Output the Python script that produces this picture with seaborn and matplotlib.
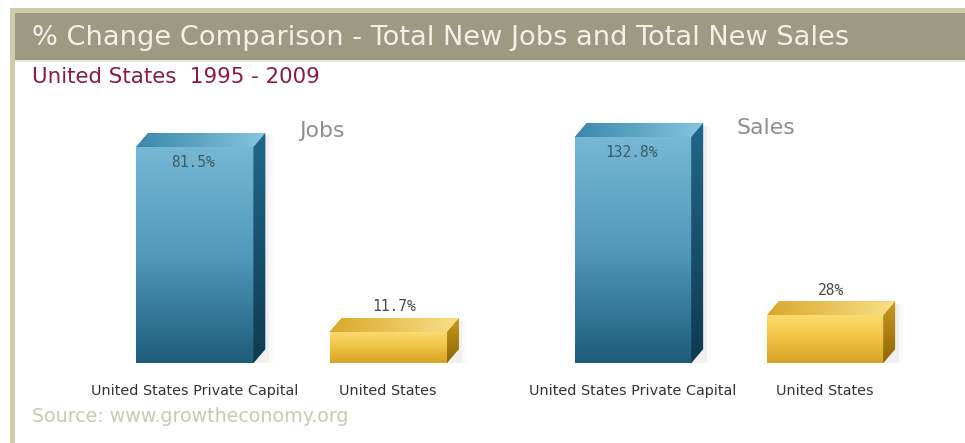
import numpy as np
import pandas as pd
import matplotlib
matplotlib.use("Agg")
import matplotlib.pyplot as plt
from matplotlib.patches import Polygon, Rectangle
from matplotlib.colors import LinearSegmentedColormap
import seaborn as sns

# ---- data -------------------------------------------------------------
categories = ["United States Private Capital", "United States"]
jobs_change = [81.5, 11.7]
sales_change = [132.8, 28.0]
jobs_labels = ["81.5%", "11.7%"]
sales_labels = ["132.8%", "28%"]
panel_titles = ["Jobs", "Sales"]
title = "% Change Comparison - Total New Jobs and Total New Sales"
subtitle = "United States  1995 - 2009"
source = "Source: www.growtheconomy.org"

# ---- styling ----------------------------------------------------------
sns.set_theme(style="white")
plt.rcParams["font.family"] = ["DejaVu Sans"]

W, H = 965, 443
DEPTH_X, DEPTH_Y = 12, 14          # 3-D extrusion in pixels

BLUE = "#4a93b5"
GOLD = "#e9b93c"
faces = {
    BLUE: dict(front=["#76b8d5", "#5299ba", "#1d5c7a"],
               side=["#21678a", "#0f3a50"],
               top=["#3b87aa", "#86c6df"]),
    GOLD: dict(front=["#fbdb70", "#f0c242", "#d6a224"],
               side=["#c99a1c", "#8c6608"],
               top=["#d9a82a", "#fae08a"]),
}

fig = plt.figure(figsize=(W / 100, H / 100), dpi=100)
fig.patch.set_facecolor("white")


def fig_rect(left, top, width, height):
    """Pixel box (from top-left) -> figure-fraction rect."""
    return [left / W, 1 - (top + height) / H, width / W, height / H]


def add_fig_box(left, top, width, height, color, z=0):
    x, y, w, h = fig_rect(left, top, width, height)
    fig.patches.append(Rectangle((x, y), w, h, transform=fig.transFigure,
                                 facecolor=color, edgecolor="none", zorder=z))


# frame: khaki border, olive header bar
add_fig_box(10, 8, W - 10, 5, "#cfccaa")
add_fig_box(10, 8, 5, H - 8, "#cfccaa")
add_fig_box(15, 13, W - 15, 47, "#9c9a82")
add_fig_box(15, 60, W - 15, 2, "#e9e7da")

fig.text(32 / W, 1 - 38 / H, title, color="#f3f1e6", fontsize=19.6,
         va="center", ha="left")
fig.text(32 / W, 1 - 77 / H, subtitle, color="#8a1c3e", fontsize=15.4,
         va="center", ha="left")
fig.text(32 / W, 1 - 417 / H, source, color="#c6cab6", fontsize=13.7,
         va="center", ha="left")


def gradient_image(ax, extent, colors, clip, horizontal=False, z=3):
    cmap = LinearSegmentedColormap.from_list("g", colors)
    g = np.linspace(0, 1, 256)
    arr = g[np.newaxis, :] if horizontal else g[:, np.newaxis]
    im = ax.imshow(arr, extent=extent, cmap=cmap, aspect="auto",
                   origin="upper" if not horizontal else "lower",
                   interpolation="bicubic", zorder=z)
    im.set_clip_path(clip)
    return im


def draw_panel(rect, values, labels, name, ymax, name_pos):
    ax = fig.add_axes(fig_rect(*rect))
    df = pd.DataFrame({"category": categories, "value": values})
    sns.barplot(data=df, x="category", y="value", hue="category",
                palette=[BLUE, GOLD], width=0.606, saturation=1,
                legend=False, ax=ax)
    bars = list(ax.patches)
    ax.set_xlim(-0.5, 1.5)
    ax.set_ylim(0, ymax)

    inv = ax.transData.inverted()
    d = inv.transform((DEPTH_X, DEPTH_Y)) - inv.transform((0, 0))
    ddx, ddy = d
    top_val = max(values)

    for bar, val, lab in zip(bars, values, labels):
        col = matplotlib.colors.to_hex(bar.get_facecolor())
        spec = faces[BLUE] if col == BLUE else faces[GOLD]
        x0, w, h = bar.get_x(), bar.get_width(), bar.get_height()
        x1 = x0 + w
        bar.set_edgecolor("none")

        # soft drop shadow
        for k, a in ((1.6, 0.025), (1.3, 0.035)):
            shadow = Polygon([(x0 + ddx * 0.5, -ddy * 0.1), (x1 + ddx * k, -ddy * 0.1),
                              (x1 + ddx * k, h + ddy * 0.8), (x0 + ddx * 0.5, h + ddy * 0.8)],
                             closed=True, facecolor="#000000", alpha=a,
                             edgecolor="none", zorder=1)
            ax.add_patch(shadow)

        gradient_image(ax, (x0, x1, 0, h), spec["front"], bar)
        side = Polygon([(x1, 0), (x1 + ddx, ddy), (x1 + ddx, h + ddy), (x1, h)],
                       closed=True, facecolor=spec["side"][0], edgecolor="none",
                       zorder=2)
        ax.add_patch(side)
        gradient_image(ax, (x1, x1 + ddx, 0, h + ddy), spec["side"], side)
        top = Polygon([(x0, h), (x1, h), (x1 + ddx, h + ddy), (x0 + ddx, h + ddy)],
                      closed=True, facecolor=spec["top"][0], edgecolor="none",
                      zorder=2)
        ax.add_patch(top)
        gradient_image(ax, (x0, x1 + ddx, h, h + ddy), spec["top"], top,
                       horizontal=True)

        cx = x0 + w / 2
        if val == top_val:
            ax.annotate(lab, xy=(cx, h), xytext=(-1, -11.5),
                        textcoords="offset points", ha="center", va="center",
                        fontsize=10.5, family="DejaVu Sans Mono",
                        color="#3d5b60", zorder=6)
        else:
            ax.annotate(lab, xy=(cx, h), xytext=(4.5, 18),
                        textcoords="offset points", ha="center", va="center",
                        fontsize=10.5, family="DejaVu Sans Mono",
                        color="#4a4a45", zorder=6)

    ax.set_xlim(-0.5, 1.5)
    ax.set_ylim(0, ymax)
    ax.set_xlabel("")
    ax.set_ylabel("")
    ax.set_yticks([])
    ax.tick_params(axis="x", length=0, pad=15, labelsize=10.4,
                   labelcolor="#333333")
    for s in ax.spines.values():
        s.set_visible(False)
    ax.patch.set_alpha(0)

    fig.text(name_pos[0] / W, 1 - name_pos[1] / H, name, color="#8e8e8e",
             fontsize=15.8, ha="left", va="center")
    return ax


draw_panel((98, 90, 387, 273), jobs_change, jobs_labels, panel_titles[0],
           103, (299, 131))
draw_panel((537, 90, 384, 273), sales_change, sales_labels, panel_titles[1],
           160.4, (737, 128))

fig.savefig("out.png", dpi=100)
